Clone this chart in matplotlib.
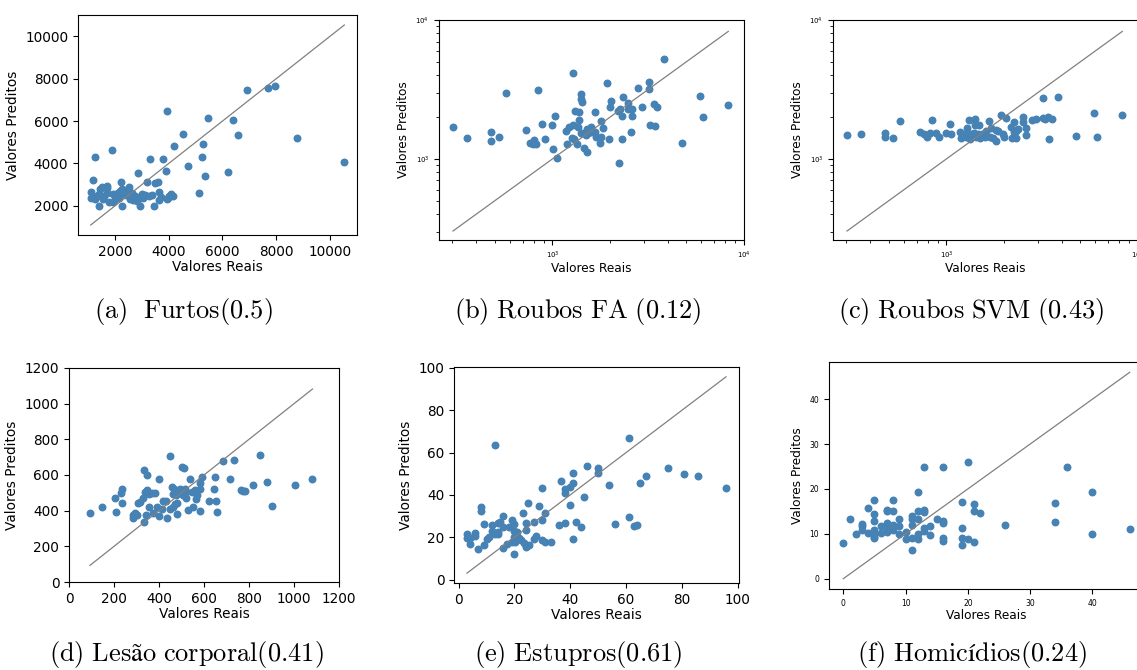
import matplotlib.pyplot as plt
import numpy as np

plt.rcParams["mathtext.fontset"] = "cm"

# Furtos
furtos_real = [1095, 1169, 1256, 1107, 1256, 1318, 1405, 1405, 1442, 1504,
               1541, 1690, 1715, 1715, 1789, 1876, 1913, 1938, 2000, 2062,
               2124, 2186, 2223, 2248, 2273, 2310, 2372, 2434, 2496, 2533,
               2558, 2620, 2682, 2744, 2843, 2868, 2930, 2992, 3054, 3116,
               3178, 3302, 3389, 3451, 3488, 3612, 3637, 3650, 3774, 3885,
               3922, 3922, 3984, 4071, 4146, 4195, 4518, 4704, 5138, 5237,
               5274, 5361, 5448, 6205, 6391, 6589, 6912, 7693, 7953, 8784,
               10533, 1600, 2050, 2400, 2800, 3250, 3700, 4020, 2150]
furtos_pred = [2659, 3208, 4306, 2392, 2314, 2470, 2000, 2580, 2816, 2894,
               2314, 2627, 2941, 2847, 2188, 4620, 2549, 2157, 2314, 2470,
               2627, 2706, 3145, 2784, 1969, 2627, 2580, 2706, 2784, 2894,
               2314, 2627, 2282, 2470, 3568, 2392, 2000, 2549, 2392, 2517,
               3129, 4227, 2517, 2000, 3098, 3129, 2659, 2282, 4227, 3647,
               6471, 2314, 2392, 2549, 2470, 4824, 5373, 3882, 2596, 4322,
               4933, 3412, 6157, 3600, 6047, 5325, 7443, 7569, 7647, 5216,
               4071, 2450, 2580, 2500, 2250, 2480, 2420, 2440, 2380]

# Roubos (florestas aleatorias)
roubos_fa_real = [303, 360, 476, 476, 524, 570, 731, 767, 792, 802,
                  806, 825, 841, 883, 912, 1000, 1008, 1037, 1058, 1175,
                  1193, 1222, 1267, 1282, 1288, 1298, 1319, 1345, 1361, 1373,
                  1373, 1406, 1406, 1418, 1430, 1459, 1465, 1494, 1507, 1507,
                  1535, 1585, 1598, 1664, 1678, 1698, 1767, 1803, 1803, 1839,
                  1938, 1968, 1994, 2034, 2202, 2248, 2230, 2295, 2295, 2350,
                  2485, 2485, 2586, 2600, 2600, 2803, 2942, 3186, 3199, 3236,
                  3396, 3428, 3510, 3837, 4723, 5888, 6125, 8279]
roubos_fa_pred = [1690, 1409, 1573, 1355, 1448, 2965, 1618, 1312, 1282, 1370,
                  1312, 1282, 3133, 1786, 1393, 1758, 1180, 2036, 1011, 1589,
                  1282, 1708, 1422, 1758, 4180, 1384, 2213, 1282, 1708, 2166,
                  1910, 2917, 1530, 2686, 2571, 1530, 1207, 1488, 1129, 1634,
                  1530, 1708, 1573, 2193, 1573, 1448, 1312, 1448, 1887, 1671,
                  3500, 1393, 2376, 2612, 2228, 2291, 931, 1384, 2036, 2805,
                  2542, 2275, 1555, 2275, 2036, 3222, 2368, 3565, 3189, 1758,
                  2488, 1738, 2355, 5212, 1312, 2858, 1993, 2448]

# Roubos (SVM)
roubos_svm_real = [303, 360, 478, 478, 526, 571, 731, 762, 793, 818,
                   845, 887, 915, 1000, 1041, 1062, 1183, 1198, 1262, 1274,
                   1274, 1313, 1324, 1351, 1390, 1406, 1406, 1435, 1464, 1482,
                   1506, 1542, 1585, 1618, 1664, 1684, 1706, 1754, 1811, 1811,
                   1863, 1938, 1977, 2000, 2042, 2186, 2213, 2249, 2255, 2301,
                   2321, 2370, 2496, 2496, 2598, 2598, 2813, 2951, 3199, 3199,
                   3281, 3398, 3440, 3540, 3837, 4745, 5888, 6126, 8279]
roubos_svm_pred = [1497, 1513, 1546, 1448, 1424, 1875, 1555, 1513, 1448, 1546,
                   1910, 1530, 1448, 1546, 1786, 1504, 1555, 1424, 1448, 1679,
                   1530, 1910, 1384, 1504, 1530, 1928, 1758, 1448, 1504, 1758,
                   1409, 1504, 1448, 1600, 1887, 1448, 1663, 1424, 1355, 1618,
                   1589, 2073, 1504, 1448, 1962, 1710, 1424, 1837, 1555, 1424,
                   1600, 1634, 2017, 1857, 1671, 1497, 1910, 1941, 2748, 1982,
                   1941, 1994, 1400, 1941, 2793, 1472, 2154, 1433, 2061]

# Lesao corporal
lesao_real = [93, 145, 204, 209, 229, 234, 234, 283, 286, 293,
              300, 308, 315, 327, 333, 334, 337, 342, 345, 348,
              355, 357, 367, 374, 382, 389, 399, 401, 414, 419,
              429, 434, 448, 451, 456, 460, 463, 466, 471, 475,
              478, 482, 487, 493, 500, 505, 510, 515, 519, 522,
              530, 537, 545, 552, 559, 564, 567, 582, 582, 584,
              592, 623, 648, 645, 652, 656, 685, 734, 715, 766,
              774, 781, 818, 848, 882, 904, 1006, 1082]
lesao_pred = [389, 421, 473, 393, 499, 523, 443, 361, 374, 389,
              378, 445, 449, 471, 626, 336, 505, 378, 514, 602,
              495, 421, 499, 389, 499, 421, 579, 370, 407, 454,
              452, 359, 707, 411, 531, 495, 421, 523, 439, 486,
              383, 445, 501, 523, 645, 490, 639, 523, 471, 505,
              406, 576, 505, 421, 514, 464, 490, 557, 523, 396,
              589, 454, 589, 520, 452, 393, 680, 686, 576, 514,
              508, 508, 542, 714, 561, 424, 542, 576]

# Estupros
estupros_real = [3, 3, 4, 4.2, 6, 6, 7, 8, 8, 9,
                 9, 10.2, 11, 12, 12, 13, 13, 14, 14, 14,
                 15, 16, 16, 16, 17.2, 18, 19, 19, 20, 20,
                 20, 20, 20.3, 21, 21.7, 22.5, 23, 23.4, 24, 24,
                 24, 25, 25.1, 27, 27, 27.9, 28.8, 29.9, 29.9, 29.9,
                 30.9, 30.9, 33, 35.9, 36.8, 38, 38, 38, 39.8, 40,
                 40.9, 41, 40.9, 42, 44, 45, 45.9, 50, 50, 54,
                 56, 61, 61, 63, 64, 65, 67, 74.9, 80.9, 85.9, 95.8]
estupros_pred = [21.7, 19.5, 19.5, 16.6, 21.8, 20.6, 14.2, 34.5, 32.3, 26.4,
                 16.3, 19.0, 20.1, 25.8, 22.9, 63.8, 21.4, 22.6, 26.9, 21.7,
                 27.4, 30.1, 25.0, 15.0, 16.6, 25.0, 28.0, 17.9, 26.1, 22.9,
                 20.3, 12.2, 17.9, 22.5, 19.8, 18.5, 31.6, 17.4, 26.9, 23.4,
                 15.5, 36.4, 16.1, 27.4, 19.0, 20.6, 34.8, 43.2, 28.2, 18.5,
                 31.6, 17.9, 17.7, 25.6, 46.4, 42.7, 40.8, 26.6, 43.5, 35.4,
                 50.3, 45.4, 19.0, 27.2, 24.8, 39.1, 53.5, 52.5, 50.2, 44.9,
                 26.4, 66.8, 29.4, 25.3, 25.8, 45.6, 48.7, 52.8, 49.7, 48.7, 43.2]

# Homicidios
homicidios_real = [0, 1, 2, 3, 3, 3, 4, 4, 5, 5,
                   5, 5, 5, 5, 5, 6, 6, 7, 7, 7,
                   7, 7, 8, 8, 8, 8, 8, 9, 9, 9,
                   10, 10, 11, 11, 11, 11, 11, 12, 12, 12,
                   12, 12, 13, 13, 13, 13, 13, 14, 14, 15,
                   16, 16, 16, 16, 16, 19, 19, 19, 19, 20,
                   20, 21, 21, 21, 22, 26, 34, 34, 36, 40,
                   40, 46]
homicidios_pred = [7.9, 13.3, 9.9, 12.2, 11.8, 10.9, 15.7, 10.1, 17.6, 14.4,
                   12.8, 10.8, 10.0, 9.4, 9.1, 11.8, 10.2, 15.4, 15.0, 12.5,
                   11.3, 10.5, 17.6, 15.0, 12.0, 11.3, 10.8, 13.3, 11.8, 10.0,
                   10.4, 8.9, 13.9, 13.3, 11.9, 9.1, 6.5, 19.4, 15.0, 13.4,
                   10.0, 8.8, 24.9, 15.2, 14.8, 11.4, 10.7, 11.7, 9.8, 13.4,
                   24.8, 12.9, 12.4, 9.1, 8.5, 17.2, 11.3, 9.1, 7.6, 25.9,
                   8.9, 16.6, 15.0, 8.2, 14.7, 11.9, 16.8, 12.6, 24.8, 19.4,
                   10.0, 11.1]

captions = [r"$\mathrm{(a)\ \ Furtos(0.5)}$",
            r"$\mathrm{(b)\ Roubos\ FA\ (0.12)}$",
            r"$\mathrm{(c)\ Roubos\ SVM\ (0.43)}$",
            r"$\mathrm{(d)\ Lesão\ corporal(0.41)}$",
            r"$\mathrm{(e)\ Estupros(0.61)}$",
            r"$\mathrm{(f)\ Homicídios(0.24)}$"]

W, H = 1137, 670
fig = plt.figure(figsize=(W / 100, H / 100), dpi=100)


def add_axes_px(left, top, right, bottom):
    return fig.add_axes([left / W, 1 - bottom / H, (right - left) / W, (bottom - top) / H])


def scatter_panel(ax, real, pred, tick_size, label_size, log=False):
    real = np.asarray(real, dtype=float)
    pred = np.asarray(pred, dtype=float)
    lo, hi = real.min(), real.max()
    ax.scatter(real, pred, s=22, color="steelblue")
    ax.plot([lo, hi], [lo, hi], color="gray", lw=0.9)
    if log:
        ax.set_xscale("log")
        ax.set_yscale("log")
        ax.set_xlim(256, 1e4)
        ax.set_ylim(261, 1e4)
    ax.set_xlabel("Valores Reais", fontsize=label_size, labelpad=1)
    ax.set_ylabel("Valores Preditos", fontsize=label_size)
    ax.tick_params(labelsize=tick_size)


ax_a = add_axes_px(78, 15, 357, 235)
scatter_panel(ax_a, furtos_real, furtos_pred, 9.8, 9.8)

ax_b = add_axes_px(439, 20, 744, 240)
scatter_panel(ax_b, roubos_fa_real, roubos_fa_pred, 5, 8.7, log=True)

# the right part of this panel runs past the figure edge
ax_c = add_axes_px(833, 20, 1138, 240)
scatter_panel(ax_c, roubos_svm_real, roubos_svm_pred, 5, 8.7, log=True)

ax_d = add_axes_px(69, 368, 339, 582)
scatter_panel(ax_d, lesao_real, lesao_pred, 9.8, 9.8)
ax_d.set_xlim(0, 1200)
ax_d.set_ylim(0, 1200)

ax_e = add_axes_px(454, 367, 739, 583)
scatter_panel(ax_e, estupros_real, estupros_pred, 9.8, 9.8)

ax_f = add_axes_px(829, 362, 1144, 589)
scatter_panel(ax_f, homicidios_real, homicidios_pred, 5.5, 8.7)

caption_x = [183, 578, 971, 186, 578, 972]
caption_y = [311, 311, 311, 655, 655, 655]
for text, cx, cy in zip(captions, caption_x, caption_y):
    fig.text(cx / W, 1 - cy / H, text, ha="center", va="center", fontsize=19)

fig.savefig("out.png", dpi=100)
